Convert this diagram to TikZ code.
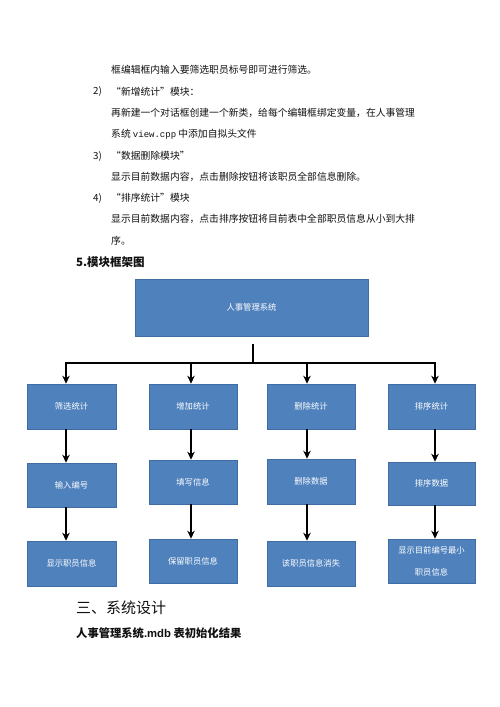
\documentclass[tikz,border=0pt]{standalone}
\usepackage{fontspec}
\setmainfont{Liberation Sans}
\setmonofont{Liberation Mono}
\newfontfamily\cjk{Noto Sans CJK SC}
\usetikzlibrary{arrows.meta}
\definecolor{boxblue}{HTML}{4F81BD}
\definecolor{boxedge}{HTML}{3F6CA3}
\definecolor{txt}{HTML}{111111}
\tikzset{
  para/.style={anchor=west, inner sep=0pt, text=txt, font=\cjk\fontsize{9.8}{12}\selectfont},
  blk/.style={draw=boxedge, line width=0.6pt, fill=boxblue, text=white, inner sep=1pt,
    font=\cjk\fontsize{8.3}{22}\selectfont, align=center},
  link/.style={line width=1.6pt, draw=black},
  arr/.style={line width=1.6pt, draw=black, -{Stealth[length=8pt,width=7.5pt]}},
}
\begin{document}
\begin{tikzpicture}[x=1pt,y=-1pt]
\useasboundingbox[fill=white] (0,0) rectangle (500,707);
% paragraph text
\node[para] (l1) at (111,70) {框编辑框内输入要筛选职员标号即可进行筛选。};
\node[para] (n2) at (93,91.5) {2)};
\node[para] (l2) at (111,91.5) {“新增统计”模块：};
\node[para] (l3) at (111,113) {再新建一个对话框创建一个新类，给每个编辑框绑定变量，在人事管理};
\node[para] (l4) at (111,134.5) {系统 {\ttfamily\fontsize{9}{12}\selectfont view.cpp} 中添加自拟头文件};
\node[para] (n3) at (93,156) {3)};
\node[para] (l5) at (111,156) {“数据删除模块”};
\node[para] (l6) at (111,177) {显示目前数据内容，点击删除按钮将该职员全部信息删除。};
\node[para] (n4) at (93,198) {4)};
\node[para] (l7) at (111,198) {“排序统计”模块};
\node[para] (l8) at (111,219) {显示目前数据内容，点击排序按钮将目前表中全部职员信息从小到大排};
\node[para] (l9) at (111,240.5) {序。};
\node[para, font=\cjk\bfseries\fontsize{11.5}{14}\selectfont] (h5) at (76,262) {5.模块框架图};
% boxes
\node[blk, minimum width=233pt, minimum height=57pt] (top) at (251.5,307.5) {人事管理系统};
\node[blk, minimum width=89pt, minimum height=45pt] (a1) at (71.5,406.5) {筛选统计};
\node[blk, minimum width=88pt, minimum height=45pt] (b1) at (193,406.5) {增加统计};
\node[blk, minimum width=88pt, minimum height=45pt] (c1) at (311,406.5) {删除统计};
\node[blk, minimum width=87pt, minimum height=45pt] (d1) at (431.5,406.5) {排序统计};
\node[blk, minimum width=89pt, minimum height=44pt] (a2) at (71.5,485) {输入编号};
\node[blk, minimum width=88pt, minimum height=44pt] (b2) at (193,482) {填写信息};
\node[blk, minimum width=88pt, minimum height=45pt] (c2) at (311,481.5) {删除数据};
\node[blk, minimum width=87pt, minimum height=43pt] (d2) at (431.5,483.5) {排序数据};
\node[blk, minimum width=89pt, minimum height=45pt] (a3) at (71.5,563.5) {显示职员信息};
\node[blk, minimum width=88pt, minimum height=44pt] (b3) at (193,561) {保留职员信息};
\node[blk, minimum width=88pt, minimum height=45pt] (c3) at (311,563.5) {该职员信息消失};
\node[blk, minimum width=87pt, minimum height=44pt] (d3) at (431.5,561) {显示目前编号最小\\职员信息};
% connectors
\coordinate (stem) at (253,344);
\coordinate (hub) at (253,363);
\coordinate (ja) at (66,363);
\coordinate (jb) at (191,363);
\coordinate (jc) at (307,363);
\coordinate (jd) at (435,363);
\draw[link] (stem) -- (hub);
\draw[link, line cap=rect] (ja) -- (jd);
\draw[arr] (ja) -- (ja |- a1.north);
\draw[arr] (jb) -- (jb |- b1.north);
\draw[arr] (jc) -- (jc |- c1.north);
\draw[arr] (jd) -- (jd |- d1.north);
\draw[arr] (ja |- a1.south) -- (ja |- a2.north);
\draw[arr] (jb |- b1.south) -- (jb |- b2.north);
\draw[arr] (jc |- c1.south) -- (jc |- c2.north);
\draw[arr] (jd |- d1.south) -- (jd |- d2.north);
\draw[arr] (ja |- a2.south) -- (ja |- a3.north);
\draw[arr] (jb |- b2.south) -- (jb |- b3.north);
\draw[arr] (jc |- c2.south) -- (jc |- c3.north);
\draw[arr] (jd |- d2.south) -- (jd |- d3.north);
% section text
\node[para, font=\cjk\fontsize{15}{18}\selectfont] (sec) at (76,608) {三、系统设计};
\node[para, font=\cjk\bfseries\fontsize{11.3}{14}\selectfont] (cap) at (76,633) {人事管理系统{\rmfamily\bfseries .mdb} 表初始化结果};
\end{tikzpicture}
\end{document}
